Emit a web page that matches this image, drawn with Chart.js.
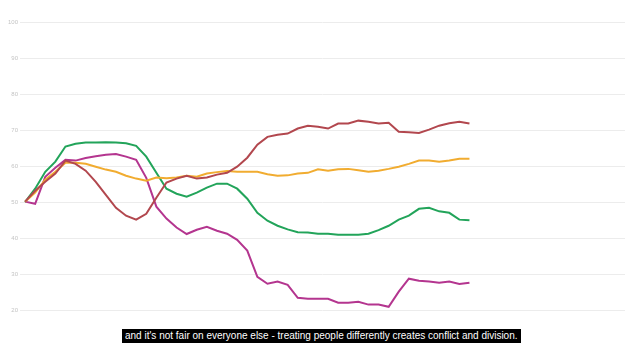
<!DOCTYPE html>
<html>
<head>
<meta charset="utf-8">
<script src="https://cdn.jsdelivr.net/npm/chart.js@4"></script>
<style>
  html, body { margin: 0; padding: 0; background: #fff; }
  #wrap { position: relative; width: 640px; height: 360px; }
  #caption {
    position: absolute; left: 122px; top: 329px; height: 14px; line-height: 14px;
    background: #000; color: #fff; padding: 0 3px;
    font-family: "Liberation Sans", Arial, sans-serif; font-size: 10px; white-space: nowrap;
  }
</style>
</head>
<body>
<div id="wrap">
  <canvas id="trendChart" width="640" height="360"></canvas>
  <div id="caption">and it's not fair on everyone else - treating people differently creates conflict and division.</div>
</div>
<script>
// survey waves (no labels shown on the x axis)
const waves = Array.from({ length: 45 }, (_, i) => i);

const redSeries = [50.1, 53.1, 55.6, 57.9, 61.5, 60.6, 58.7, 55.6, 52.0, 48.4, 46.2, 45.1, 46.7, 51.2, 55.4,
  56.5, 57.3, 56.5, 56.8, 57.6, 58.1, 59.8, 62.3, 65.9, 68.1, 68.7, 69.0, 70.4, 71.2, 70.9,
  70.4, 71.8, 71.8, 72.6, 72.3, 71.8, 72.0, 69.5, 69.4, 69.2, 70.1, 71.2, 71.9, 72.3, 71.8];

const orangeSeries = [50.1, 52.6, 56.2, 58.4, 60.9, 60.9, 60.6, 59.8, 59.0, 58.4, 57.3, 56.5, 55.9, 56.8, 56.6,
  56.8, 57.3, 57.0, 57.9, 58.3, 58.6, 58.4, 58.4, 58.4, 57.7, 57.3, 57.4, 57.9, 58.1, 59.1,
  58.7, 59.1, 59.2, 58.8, 58.4, 58.7, 59.2, 59.8, 60.6, 61.5, 61.5, 61.2, 61.5, 62.0, 62.0];

const greenSeries = [50.0, 53.7, 58.4, 61.2, 65.4, 66.2, 66.5, 66.5, 66.6, 66.5, 66.3, 65.6, 62.6, 58.1, 53.7,
  52.3, 51.5, 52.6, 54.0, 55.1, 55.1, 53.7, 50.9, 47.0, 44.8, 43.4, 42.4, 41.6, 41.5, 41.2,
  41.2, 40.9, 40.9, 40.9, 41.2, 42.2, 43.4, 45.1, 46.2, 48.1, 48.4, 47.4, 47.0, 45.1, 44.9];

const magentaSeries = [50.1, 49.5, 57.0, 59.5, 61.7, 61.5, 62.2, 62.7, 63.1, 63.3, 62.6, 61.7, 56.7, 48.7, 45.4,
  42.9, 41.1, 42.3, 43.1, 42.0, 41.2, 39.5, 36.5, 29.2, 27.3, 27.9, 27.0, 23.4, 23.1, 23.1,
  23.1, 22.0, 22.0, 22.3, 21.5, 21.5, 20.9, 25.1, 28.7, 28.1, 27.9, 27.6, 27.9, 27.2, 27.6];

const yTicks = [20, 30, 40, 50, 60, 70, 80, 90, 100];

function toPoints(values) {
    return values.map((v, i) => ({ x: waves[i], y: v }));
}

function lineSet(values, color) {
    return {
        data: toPoints(values),
        borderColor: color,
        borderWidth: 2,
        pointRadius: 0,
        tension: 0,
        fill: false
    };
}

const ctx = document.getElementById('trendChart').getContext('2d');
new Chart(ctx, {
    type: 'line',
    data: {
        datasets: [
            lineSet(redSeries, '#b2474e'),
            lineSet(orangeSeries, '#f1ac30'),
            lineSet(greenSeries, '#22a45a'),
            lineSet(magentaSeries, '#b4358f')
        ]
    },
    options: {
        responsive: false,
        animation: false,
        layout: { padding: { top: 22, right: 15, bottom: 50, left: 6 } },
        plugins: { legend: { display: false }, tooltip: { enabled: false } },
        scales: {
            x: {
                type: 'linear',
                display: false,
                min: -0.5,
                max: 59.4
            },
            y: {
                min: 20,
                max: 100,
                afterBuildTicks: (axis) => { axis.ticks = yTicks.map(v => ({ value: v })); },
                border: { display: false },
                grid: { color: '#ececec', lineWidth: 1, drawTicks: false },
                ticks: {
                    color: '#c4c4c4',
                    padding: 2,
                    font: { family: 'Liberation Sans', size: 6 }
                }
            }
        }
    }
});
</script>
</body>
</html>
